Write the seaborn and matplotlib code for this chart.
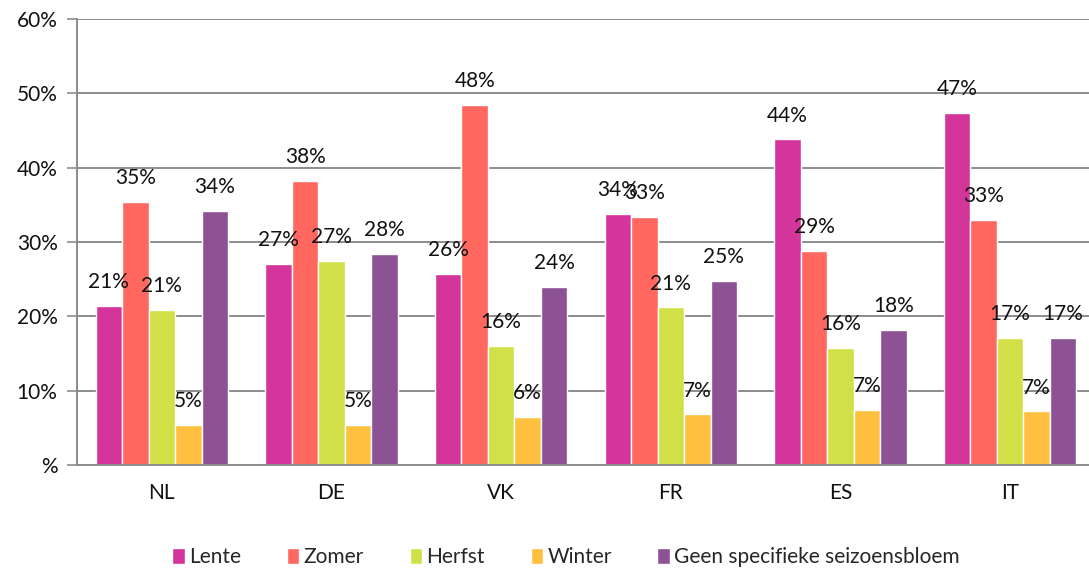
import matplotlib
matplotlib.use("Agg")
import matplotlib.pyplot as plt
import seaborn as sns
import pandas as pd
from matplotlib.ticker import FixedLocator, FuncFormatter

countries = ["NL", "DE", "VK", "FR", "ES", "IT"]
seasons = ["Lente", "Zomer", "Herfst", "Winter", "Geen specifieke seizoensbloem"]
lente = [21.4, 27.0, 25.7, 33.8, 43.8, 47.4]
zomer = [35.4, 38.2, 48.4, 33.4, 28.8, 33.0]
herfst = [20.9, 27.4, 16.0, 21.2, 15.8, 17.1]
winter = [5.4, 5.4, 6.5, 6.8, 7.4, 7.2]
geen = [34.2, 28.4, 24.0, 24.8, 18.2, 17.1]
colors = ["#D4359A", "#FF675F", "#D2E048", "#FFBF3F", "#8C5294"]

series = [lente, zomer, herfst, winter, geen]
rows = []
for s, vals in zip(seasons, series):
    for c, v in zip(countries, vals):
        rows.append({"land": c, "seizoen": s, "waarde": v})
df = pd.DataFrame(rows)

sns.set_theme(style="white")
plt.rcParams["font.family"] = ["Lato", "DejaVu Sans"]

W, H = 1089, 574
fig = plt.figure(figsize=(W / 100, H / 100), dpi=100)
ax = fig.add_axes([77 / W, (H - 465) / H, 1018 / W, 446 / H])

sns.barplot(data=df, x="land", y="waarde", hue="seizoen", order=countries,
            hue_order=seasons, palette=colors, width=0.78, saturation=1,
            ax=ax, legend=True, errorbar=None)

for cont in ax.containers:
    labels = [f"{round(b.get_height()):d}%" for b in cont]
    ax.bar_label(cont, labels=labels, padding=10, fontsize=15, color="#111111")

ax.set_ylim(0, 60)
ax.set_xlim(-0.5, 5.5)
ax.yaxis.set_major_locator(FixedLocator([0, 10, 20, 30, 40, 50, 60]))
ax.yaxis.set_major_formatter(FuncFormatter(lambda v, p: "%" if v == 0 else f"{int(v)}%"))
ax.grid(axis="y", color="#8c8c8c", linewidth=1.4)
ax.set_axisbelow(True)

ax.set_xticks([i - 0.5 for i in range(7)])
ax.set_xticklabels([""] * 7)
ax.set_xticks(range(6), minor=True)
ax.set_xticklabels(countries, minor=True)
ax.tick_params(axis="x", which="major", length=6, width=1.2, color="#8c8c8c", direction="out")
ax.tick_params(axis="x", which="minor", length=0, pad=13, labelsize=15, labelcolor="#111111")
ax.tick_params(axis="y", length=7, width=1.2, color="#8c8c8c", direction="out",
               pad=7, labelsize=15, labelcolor="#111111", left=True)
ax.set_xlabel("")
ax.set_ylabel("")
for side in ["top", "right"]:
    ax.spines[side].set_visible(False)
for side in ["left", "bottom"]:
    ax.spines[side].set_color("#8c8c8c")
    ax.spines[side].set_linewidth(1.4)

handles, labs = ax.get_legend_handles_labels()
ax.get_legend().remove()
fig.legend(handles, labs, loc="center", bbox_to_anchor=(566 / W, (H - 557) / H),
           ncol=5, frameon=False, fontsize=15, handlelength=0.6, handleheight=0.8,
           handletextpad=0.2, columnspacing=2.2)

fig.savefig("out.png", dpi=100)
